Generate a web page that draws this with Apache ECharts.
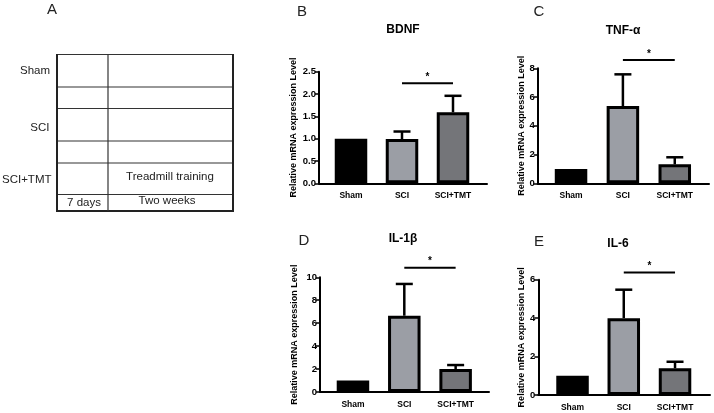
<!DOCTYPE html>
<html>
<head>
<meta charset="utf-8">
<script src="https://cdn.jsdelivr.net/npm/echarts@6/dist/echarts.min.js"></script>
<style>html,body{margin:0;padding:0;background:#fff;}#c{width:714px;height:413px;}</style>
</head>
<body>
<div id="c"></div>
<script>
// ---- data ----
const categories = ['Sham', 'SCI', 'SCI+TMT'];
const panelTitles = ['BDNF', 'TNF-α', 'IL-1β', 'IL-6'];
const panelLetters = ['A', 'B', 'C', 'D', 'E'];
const yTitle = 'Relative mRNA expression Level';
const bdnfMean = [1.0, 0.99, 1.59];
const bdnfSem = [0, 0.17, 0.37];
const tnfMean = [1.0, 5.37, 1.32];
const tnfSem = [0, 2.21, 0.49];
const il1bMean = [1.0, 6.65, 2.0];
const il1bSem = [0, 2.77, 0.35];
const il6Mean = [1.0, 4.0, 1.39];
const il6Sem = [0, 1.48, 0.34];
const yMax = [2.5, 8, 10, 6];
const yStep = [0.5, 2, 2, 2];
const sigLevel = [2.24, 8.58, 10.84, 6.38];
const sigPair = [1, 2];
const sigMark = '*';
const tableRows = ['Sham', 'SCI', 'SCI+TMT'];
const tableNotes = ['Treadmill training', '7 days', 'Two weeks'];

// ---- layout / style ----
const FONT = '"Liberation Sans", Arial, Helvetica, sans-serif';
const barColors = ['#000000', '#9b9ea5', '#747579'];
const means = [bdnfMean, tnfMean, il1bMean, il6Mean];
const sems = [bdnfSem, tnfSem, il1bSem, il6Sem];
const layout = [
  {axL: 319, axR: 487, top: 71.7, bot: 183.3, barL: 325.5, barW: 153, nameGap: 21, title: [403, 30], letter: [302, 12]},
  {axL: 537.7, axR: 709, top: 68.3, bot: 183.3, barL: 545.1, barW: 155.6, nameGap: 12, title: [623, 31], letter: [539, 12]},
  {axL: 320, axR: 489, top: 277.3, bot: 392, barL: 327.3, barW: 154, nameGap: 21, title: [403, 239], letter: [304, 241]},
  {axL: 538.3, axR: 710, top: 279.7, bot: 395, barL: 546.9, barW: 153.75, nameGap: 12, title: [618, 244], letter: [539, 242]}
];

const grids = [], xAxes = [], yAxes = [], series = [];
layout.forEach((L, p) => {
  const h = L.bot - L.top;
  grids.push({left: L.axL, top: L.top, width: L.axR - L.axL, height: h, containLabel: false});
  grids.push({left: L.barL, top: L.top, width: L.barW, height: h, containLabel: false});
  const ga = 2 * p, gb = 2 * p + 1;
  xAxes.push({
    gridIndex: ga, type: 'value', min: 0, max: 1,
    axisLine: {show: true, lineStyle: {color: '#000', width: 2}},
    axisTick: {show: false}, axisLabel: {show: false}, splitLine: {show: false}
  });
  yAxes.push({
    gridIndex: ga, type: 'value', min: 0, max: yMax[p], interval: yStep[p],
    axisLine: {show: true, lineStyle: {color: '#000', width: 2}},
    axisTick: {show: true, inside: false, length: 4, lineStyle: {color: '#000', width: 1.5}},
    axisLabel: {show: true, color: '#000', fontWeight: 'bold', fontSize: 9.5, fontFamily: FONT, margin: 3,
      formatter: v => yStep[p] < 1 ? v.toFixed(1) : String(v)},
    splitLine: {show: false},
    name: yTitle, nameLocation: 'middle', nameRotate: 90, nameGap: L.nameGap,
    nameTextStyle: {color: '#000', fontWeight: 'bold', fontSize: 9, fontFamily: FONT}
  });
  xAxes.push({
    gridIndex: gb, type: 'category', data: categories,
    axisLine: {show: false}, axisTick: {show: false},
    axisLabel: {show: true, color: '#000', fontWeight: 'bold', fontSize: 8.5, fontFamily: FONT, margin: 8, interval: 0},
    splitLine: {show: false}
  });
  yAxes.push({gridIndex: gb, type: 'value', min: 0, max: yMax[p], show: false, splitLine: {show: false}});
  const xi = 2 * p + 1, yi = 2 * p + 1;
  series.push({
    type: 'bar', xAxisIndex: xi, yAxisIndex: yi, barWidth: 32.5, silent: true,
    data: means[p].map((v, i) => ({value: v, itemStyle: {color: barColors[i], borderColor: '#000', borderWidth: 3}})),
    z: 2
  });
  series.push({
    type: 'custom', xAxisIndex: xi, yAxisIndex: yi, clip: false, silent: true, z: 3,
    encode: {x: 0, y: 1},
    data: means[p].map((v, i) => [i, v, sems[p][i]]),
    renderItem: (params, api) => {
      const i = api.value(0), m = api.value(1), s = api.value(2);
      if (!s) return null;
      const p0 = api.coord([i, m]), p1 = api.coord([i, m + s]);
      return {type: 'group', children: [
        {type: 'line', shape: {x1: p0[0], y1: p0[1], x2: p1[0], y2: p1[1]}, style: {stroke: '#000', lineWidth: 2.5}},
        {type: 'line', shape: {x1: p1[0] - 8.5, y1: p1[1], x2: p1[0] + 8.5, y2: p1[1]}, style: {stroke: '#000', lineWidth: 2.5}}
      ]};
    }
  });
  series.push({
    type: 'custom', xAxisIndex: xi, yAxisIndex: yi, clip: false, silent: true, z: 3,
    encode: {x: [0, 1], y: 2},
    data: [[sigPair[0], sigPair[1], sigLevel[p]]],
    renderItem: (params, api) => {
      const a = api.coord([api.value(0), api.value(2)]);
      const b = api.coord([api.value(1), api.value(2)]);
      return {type: 'group', children: [
        {type: 'line', shape: {x1: a[0], y1: a[1], x2: b[0], y2: b[1]}, style: {stroke: '#000', lineWidth: 2}},
        {type: 'text', x: (a[0] + b[0]) / 2, y: a[1] - 6, style: {text: sigMark, fill: '#000', font: 'bold 10px ' + FONT, align: 'center', verticalAlign: 'middle'}}
      ]};
    }
  });
});

// ---- panel A schematic + titles ----
const graphic = [];
const hLines = [54.5, 87, 108.5, 141, 163, 194.5];
hLines.forEach(y => graphic.push({type: 'line', shape: {x1: 57, y1: y, x2: 233, y2: y}, style: {stroke: '#333', lineWidth: 1.2}}));
graphic.push({type: 'line', shape: {x1: 56, y1: 211, x2: 234, y2: 211}, style: {stroke: '#222', lineWidth: 2}});
graphic.push({type: 'line', shape: {x1: 57, y1: 54, x2: 57, y2: 212}, style: {stroke: '#222', lineWidth: 2}});
graphic.push({type: 'line', shape: {x1: 233, y1: 54, x2: 233, y2: 212}, style: {stroke: '#222', lineWidth: 2}});
graphic.push({type: 'line', shape: {x1: 108, y1: 54.5, x2: 108, y2: 211}, style: {stroke: '#333', lineWidth: 1.2}});
const rowPos = [[50, 71], [49.5, 128], [51.5, 180]];
tableRows.forEach((t, i) => graphic.push({type: 'text', x: rowPos[i][0], y: rowPos[i][1],
  style: {text: t, fill: '#222', font: '11.5px ' + FONT, align: 'right', verticalAlign: 'middle'}}));
const notePos = [[170, 177], [84, 203], [167, 201]];
tableNotes.forEach((t, i) => graphic.push({type: 'text', x: notePos[i][0], y: notePos[i][1],
  style: {text: t, fill: '#222', font: '11.5px ' + FONT, align: 'center', verticalAlign: 'middle'}}));
graphic.push({type: 'text', x: 52, y: 10, style: {text: panelLetters[0], fill: '#222', font: '15px ' + FONT, align: 'center', verticalAlign: 'middle'}});
layout.forEach((L, p) => {
  graphic.push({type: 'text', x: L.letter[0], y: L.letter[1], style: {text: panelLetters[p + 1], fill: '#222', font: '15px ' + FONT, align: 'center', verticalAlign: 'middle'}});
  graphic.push({type: 'text', x: L.title[0], y: L.title[1], style: {text: panelTitles[p], fill: '#000', font: 'bold 12px ' + FONT, align: 'center', verticalAlign: 'middle'}});
});

const chart = echarts.init(document.getElementById('c'), null, {renderer: 'canvas'});
chart.setOption({
  animation: false,
  backgroundColor: '#fff',
  grid: grids, xAxis: xAxes, yAxis: yAxes, series: series, graphic: graphic
});
</script>
</body>
</html>
